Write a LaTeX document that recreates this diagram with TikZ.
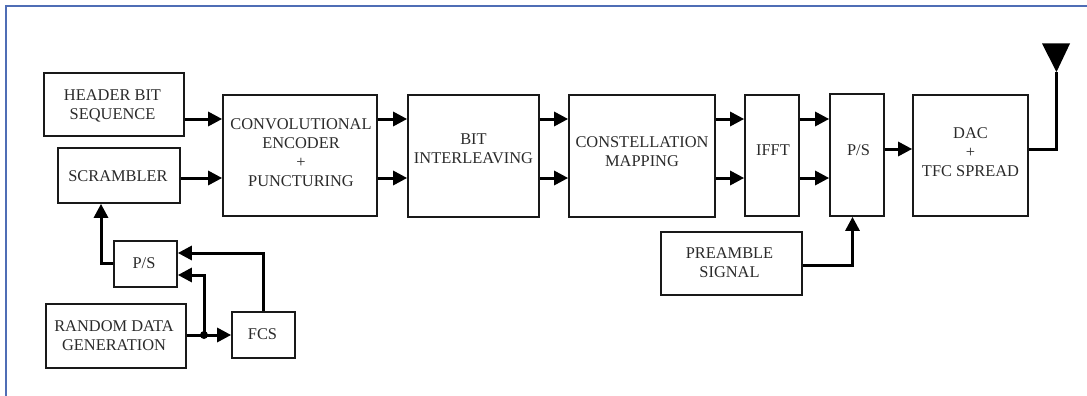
\documentclass[tikz,border=0pt]{standalone}
\usepackage{fontspec}
\setmainfont{Liberation Serif}
\usetikzlibrary{arrows.meta,calc}
\definecolor{frameblue}{HTML}{4F6DB5}
\definecolor{inktext}{HTML}{2A2A2A}
\newcommand{\tl}[3]{\makebox[0pt]{\hspace*{#1pt}\hspace*{#1pt}\raisebox{#2pt}[0pt][0pt]{\begin{tabular}{@{}c@{}}#3\end{tabular}}}}
\tikzset{
  x=1pt,y=-1pt,
  blockbox/.style={draw=black!90,line width=1.7pt,fill=white,inner sep=0pt,text=inktext,
    font=\fontsize{16.4pt}{19pt}\selectfont},
  flow/.style={draw=black,line width=3pt,-{Triangle[length=14pt,width=14pt]}},
  wire/.style={draw=black,line width=3pt},
  pict/.style={line join=miter}
}
\newcommand{\blk}[6]{\node[blockbox,minimum width=#4pt-#2pt,minimum height=#5pt-#3pt] (#1) at ({(#2+#4)/2},{(#3+#5)/2}) {#6};}
\begin{document}
\begin{tikzpicture}[pict]
\useasboundingbox (0,0) rectangle (1087,396);
\fill[white] (0,0) rectangle (1087,396);
\draw[frameblue,line width=1.3pt] (1090,6) -- (6,6) -- (6,400);
\coordinate (up) at (0,119);
\coordinate (lo) at (0,178);
\coordinate (mid) at (0,149);
\coordinate (psup) at (0,253);
\coordinate (pslo) at (0,275);
\coordinate (dot) at (204,335);
\coordinate (scrx) at (101,0);
\coordinate (psbx) at (852.5,0);
\coordinate (fcsx) at (263,0);
\coordinate (apex) at (1056.5,72);
\coordinate (antl) at (1042,43.5);
\coordinate (antr) at (1070,43.5);
\blk{hdr}{44}{73}{184}{136}{\tl{-1.5}{-6.5}{HEADER BIT\\SEQUENCE}}
\blk{scr}{58}{148}{180}{203}{\tl{-1}{-7}{SCRAMBLER}}
\blk{conv}{223}{95}{377}{216}{\tl{1}{-3}{CONVOLUTIONAL\\ENCODER\\+\\PUNCTURING}}
\blk{pss}{114}{241}{177}{287}{\tl{-1.5}{-5}{P/S}}
\blk{rnd}{46}{304}{186}{368}{\tl{-2}{-6}{RANDOM DATA\\GENERATION}}
\blk{fcs}{232}{312}{295}{358}{\tl{-1}{-5}{FCS}}
\blk{bit}{408}{95}{539}{217}{\tl{0}{1.5}{BIT\\INTERLEAVING}}
\blk{con}{569}{95}{715}{217}{\tl{0}{-2}{CONSTELLATION\\MAPPING}}
\blk{ifft}{745}{95}{799}{216}{\tl{1}{-1}{IFFT}}
\blk{ps}{830}{94}{884}{216}{\tl{1.5}{-1}{P/S}}
\blk{dac}{913}{95}{1028}{216}{\tl{0}{-3}{DAC\\+\\TFC SPREAD}}
\blk{pre}{661}{232}{802}{295}{\tl{-2}{-5.5}{PREAMBLE\\SIGNAL}}
\draw[flow] (hdr.east |- up) -- (conv.west |- up);
\draw[flow] (scr.east |- lo) -- (conv.west |- lo);
\draw[flow] (conv.east |- up) -- (bit.west |- up);
\draw[flow] (conv.east |- lo) -- (bit.west |- lo);
\draw[flow] (bit.east |- up) -- (con.west |- up);
\draw[flow] (bit.east |- lo) -- (con.west |- lo);
\draw[flow] (con.east |- up) -- (ifft.west |- up);
\draw[flow] (con.east |- lo) -- (ifft.west |- lo);
\draw[flow] (ifft.east |- up) -- (ps.west |- up);
\draw[flow] (ifft.east |- lo) -- (ps.west |- lo);
\draw[flow] (ps.east |- mid) -- (dac.west |- mid);
\draw[flow] (pre.east |- 0,265) -| (psbx |- ps.south);
\draw[flow] (pss.west |- 0,263) -| (scrx |- scr.south);
\draw[flow] (rnd.east |- dot) -- (fcs.west |- dot);
\draw[flow] (dot) |- (pss.east |- pslo);
\draw[flow] (fcsx |- fcs.north) |- (pss.east |- psup);
\fill[black] (dot) circle (4pt);
\fill[black] (apex) -- (antl) -- (antr) -- cycle;
\draw[wire] (dac.east |- mid) -| (apex);
\end{tikzpicture}
\end{document}
